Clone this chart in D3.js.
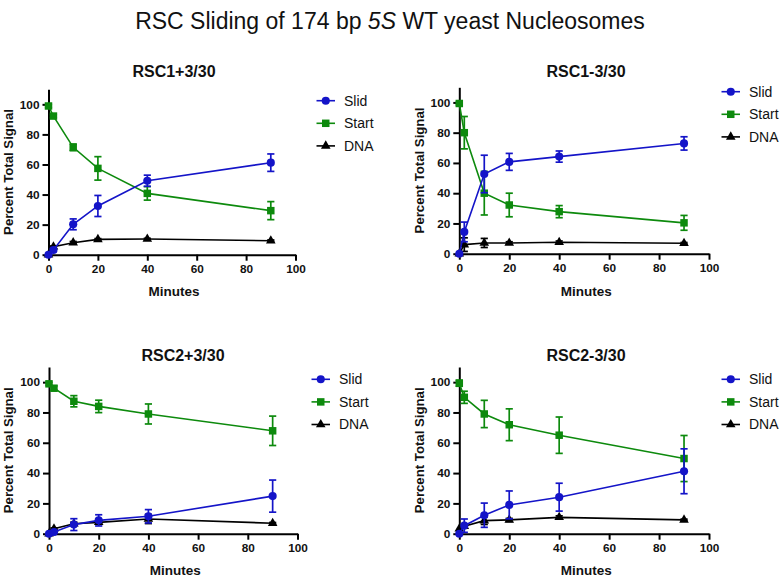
<!DOCTYPE html>
<html>
<head>
<meta charset="utf-8">
<script src="https://cdn.jsdelivr.net/npm/d3@7"></script>
<style>
  html, body { margin: 0; padding: 0; background: #fff; }
  svg { display: block; font-family: "Liberation Sans", Arial, sans-serif; }
</style>
</head>
<body>
<svg id="chart" width="781" height="581"></svg>
<script>
// ---------------- data ----------------
const minutes = [0, 2, 10, 20, 40, 90];
const xTicks = [0, 20, 40, 60, 80, 100];
const yTicks = [0, 20, 40, 60, 80, 100];
const seriesNames = ["Slid", "Start", "DNA"];
const panelTitles = ["RSC1+3/30", "RSC1-3/30", "RSC2+3/30", "RSC2-3/30"];

// RSC1+3/30
const rsc1p_slid      = [0, 3.1, 20.2, 32.4, 49.2, 61.2];
const rsc1p_slid_err  = [0, 1.0, 3.6, 7.0, 3.7, 5.8];
const rsc1p_start     = [98.9, 92.2, 71.4, 57.4, 40.8, 29.3];
const rsc1p_start_err = [1.0, 1.0, 2.2, 7.8, 4.5, 6.0];
const rsc1p_dna       = [0, 5.3, 8.0, 10.2, 10.4, 9.3];
const rsc1p_dna_err   = [0, 0.5, 0.8, 0.5, 0.5, 0.5];

// RSC1-3/30
const rsc1m_slid      = [0, 14.4, 52.7, 60.7, 64.2, 72.9];
const rsc1m_slid_err  = [0, 6.5, 12.4, 5.6, 3.7, 4.4];
const rsc1m_start     = [99.3, 80.0, 40.0, 32.2, 27.8, 20.4];
const rsc1m_start_err = [1.0, 10.7, 14.4, 7.8, 4.0, 4.9];
const rsc1m_dna       = [0, 6.0, 7.1, 7.1, 7.6, 6.9];
const rsc1m_dna_err   = [0, 4.5, 3.0, 0.8, 0.8, 0.5];

// RSC2+3/30
const rsc2p_slid      = [0, 1.1, 6.0, 8.8, 11.5, 24.8];
const rsc2p_slid_err  = [0, 0.5, 3.9, 3.7, 4.4, 10.6];
const rsc2p_start     = [98.9, 96.0, 87.4, 84.0, 79.0, 67.9];
const rsc2p_start_err = [1.0, 1.5, 3.7, 4.1, 6.6, 9.7];
const rsc2p_dna       = [0, 3.3, 6.6, 7.5, 9.7, 6.9];
const rsc2p_dna_err   = [0, 0.5, 1.0, 1.0, 3.0, 0.5];

// RSC2-3/30
const rsc2m_slid      = [0, 5.3, 12.2, 19.0, 24.1, 41.2];
const rsc2m_slid_err  = [0, 4.4, 8.0, 9.2, 9.2, 14.8];
const rsc2m_start     = [99.3, 90.0, 79.0, 71.9, 65.0, 49.6];
const rsc2m_start_err = [2.0, 4.0, 9.0, 10.5, 12.0, 15.2];
const rsc2m_dna       = [3.3, 4.9, 8.6, 9.1, 10.8, 9.1];
const rsc2m_dna_err   = [0, 1.0, 2.5, 1.0, 1.0, 0.5];

// ---------------- build ----------------
const colors = { Slid: "#1414c8", Start: "#0d8a0d", DNA: "#000000" };
const shapes = { Slid: d3.symbolCircle, Start: d3.symbolSquare, DNA: d3.symbolTriangle };
const sizes  = { Slid: 52, Start: 56, DNA: 40 };

const panelData = [
  { Slid: [rsc1p_slid, rsc1p_slid_err], Start: [rsc1p_start, rsc1p_start_err], DNA: [rsc1p_dna, rsc1p_dna_err] },
  { Slid: [rsc1m_slid, rsc1m_slid_err], Start: [rsc1m_start, rsc1m_start_err], DNA: [rsc1m_dna, rsc1m_dna_err] },
  { Slid: [rsc2p_slid, rsc2p_slid_err], Start: [rsc2p_start, rsc2p_start_err], DNA: [rsc2p_dna, rsc2p_dna_err] },
  { Slid: [rsc2m_slid, rsc2m_slid_err], Start: [rsc2m_start, rsc2m_start_err], DNA: [rsc2m_dna, rsc2m_dna_err] }
];

// layout (pixel geometry)
const layouts = [
  { x0: 48.5, x1: 295.5, y0: 254.7, y1: 89.3, titleX: 174, titleY: 77, legX: 316.5, legY: 100.7, ylabX: 13, xlabY: 296 },
  { x0: 459.3, x1: 709, y0: 253.7, y1: 87.3, titleX: 586, titleY: 77, legX: 721.5, legY: 91.7, ylabX: 424, xlabY: 296 },
  { x0: 49, x1: 297.5, y0: 533.7, y1: 367, titleX: 183, titleY: 361, legX: 311.5, legY: 379.3, ylabX: 13, xlabY: 575 },
  { x0: 459.3, x1: 709, y0: 533.7, y1: 367, titleX: 586, titleY: 361, legX: 721.5, legY: 379.3, ylabX: 424, xlabY: 575 }
];

const svg = d3.select("#chart");

// main title
const mt = svg.append("text")
  .attr("x", 390).attr("y", 29)
  .attr("text-anchor", "middle")
  .attr("font-size", 23)
  .attr("fill", "#111");
mt.append("tspan").text("RSC Sliding of 174 bp ");
mt.append("tspan").attr("font-style", "italic").text("5S");
mt.append("tspan").text(" WT yeast Nucleosomes");

layouts.forEach((L, i) => {
  const g = svg.append("g");
  const x = d3.scaleLinear().domain([0, 100]).range([L.x0, L.x1]);
  const y = d3.scaleLinear().domain([0, 110]).range([L.y0, L.y1]);

  // axes
  const xa = g.append("g").attr("transform", `translate(0,${L.y0})`)
    .call(d3.axisBottom(x).tickValues(xTicks).tickSize(6).tickSizeOuter(0).tickPadding(4));
  const ya = g.append("g").attr("transform", `translate(${L.x0},0)`)
    .call(d3.axisLeft(y).tickValues(yTicks).tickSize(6).tickSizeOuter(0).tickPadding(3));
  [xa, ya].forEach(a => {
    a.select(".domain").attr("stroke", "#000").attr("stroke-width", 2);
    a.selectAll(".tick line").attr("stroke", "#000").attr("stroke-width", 2);
    a.selectAll(".tick text").attr("font-size", 11.8).attr("font-weight", "bold")
      .attr("fill", "#111").attr("font-family", "'Liberation Sans', Arial, sans-serif");
  });

  // title
  g.append("text").attr("x", L.titleX).attr("y", L.titleY)
    .attr("text-anchor", "middle").attr("font-size", 16).attr("font-weight", "bold")
    .attr("fill", "#111").text(panelTitles[i]);

  // y label
  g.append("text")
    .attr("transform", `translate(${L.ylabX},${(L.y0 + L.y1) / 2}) rotate(-90)`)
    .attr("text-anchor", "middle").attr("font-size", 13.2).attr("font-weight", "bold")
    .attr("fill", "#111").text("Percent Total Signal");

  // x label
  g.append("text").attr("x", (L.x0 + L.x1) / 2 + 2).attr("y", L.xlabY)
    .attr("text-anchor", "middle").attr("font-size", 13.5).attr("font-weight", "bold")
    .attr("fill", "#111").text("Minutes");

  // series (DNA first, Slid last on top)
  const order = ["DNA", "Start", "Slid"];
  order.forEach(name => {
    const [vals, errs] = panelData[i][name];
    const pts = minutes.map((m, k) => ({ m, v: vals[k], e: errs[k] }));
    const c = colors[name];
    const line = d3.line().x(d => x(d.m)).y(d => y(d.v));
    g.append("path").datum(pts).attr("d", line)
      .attr("fill", "none").attr("stroke", c).attr("stroke-width", 1.6);

    const eb = g.append("g").attr("stroke", c).attr("stroke-width", 1.7);
    pts.filter(d => d.e > 0).forEach(d => {
      const cx = x(d.m);
      eb.append("line").attr("x1", cx).attr("x2", cx).attr("y1", y(d.v + d.e)).attr("y2", y(d.v - d.e));
      eb.append("line").attr("x1", cx - 3.6).attr("x2", cx + 3.6).attr("y1", y(d.v + d.e)).attr("y2", y(d.v + d.e));
      eb.append("line").attr("x1", cx - 3.6).attr("x2", cx + 3.6).attr("y1", y(d.v - d.e)).attr("y2", y(d.v - d.e));
    });

    g.append("g").selectAll("path").data(pts).join("path")
      .attr("transform", d => `translate(${x(d.m)},${y(d.v)})`)
      .attr("d", d3.symbol().type(shapes[name]).size(sizes[name]))
      .attr("fill", c);
  });

  // legend
  seriesNames.forEach((name, k) => {
    const ly = L.legY + k * 22.6;
    const c = colors[name];
    g.append("line").attr("x1", L.legX).attr("x2", L.legX + 18.5)
      .attr("y1", ly).attr("y2", ly).attr("stroke", c).attr("stroke-width", 1.6);
    g.append("path").attr("transform", `translate(${L.legX + 9.25},${ly})`)
      .attr("d", d3.symbol().type(shapes[name]).size(sizes[name])).attr("fill", c);
    g.append("text").attr("x", L.legX + 27.5).attr("y", ly + 4.8)
      .attr("font-size", 14).attr("fill", "#111").text(name);
  });
});
</script>
</body>
</html>
